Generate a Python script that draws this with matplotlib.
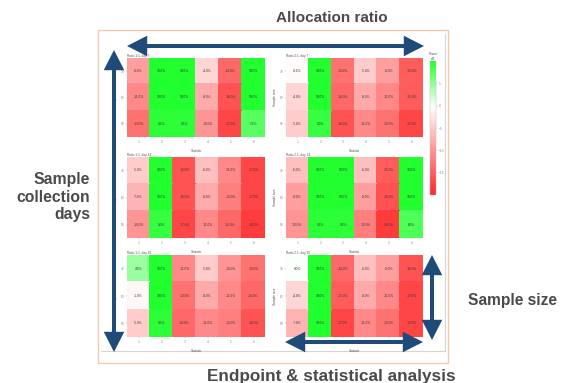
import matplotlib
matplotlib.use("Agg")
import matplotlib.pyplot as plt
import numpy as np
from matplotlib.colors import LinearSegmentedColormap, Normalize
from matplotlib.patches import FancyArrowPatch, Rectangle
from matplotlib.lines import Line2D

plt.rcParams['font.family'] = ['Liberation Sans', 'DejaVu Sans']

# ---------------- data ----------------
row_labels = ["30", "60", "90"]
col_labels = ["1", "2", "3", "4", "5", "6"]
panel_titles = ["Ratio 1:1, day 7", "Ratio 2:1, day 7",
                "Ratio 1:1, day 14", "Ratio 2:1, day 14",
                "Ratio 1:1, day 28", "Ratio 2:1, day 28"]

tl_vals = [[-9, 10, 10, -4, -14, 10],
           [-11, 10, 10, -8, -16, 10],
           [-13, 9.5, 9.5, -10, -17, 7.5]]
tr_vals = [[-0.6, 10, -13, -5, -9, -15],
           [-4, 10, -14, -8, -11, -15],
           [-5, 9, -16, -11, -13, -17]]
ml_vals = [[-5, 10, -16, -6, -11, -17],
           [-7, 10, -16, -8, -12, -17],
           [-10, 9, -17, -11, -14, -18]]
mr_vals = [[-6, 10, 10, -6, -15, 10],
           [-9, 10, 10, -9, -16, 10],
           [-10, 9.5, 9.5, -12, -18, 8]]
bl_vals = [[4.5, 10, -11, -5, -10, -13],
           [-1, 10, -13, -8, -11, -14],
           [-5, 9.5, -14, -11, -12, -16]]
br_vals = [[0, 10, -14, -6, -9, -16],
           [-4, 10, -15, -8, -11, -17],
           [-7, 10, -17, -11, -13, -17]]
panels = [tl_vals, tr_vals, ml_vals, mr_vals, bl_vals, br_vals]

cbar_ticks = [-15, -10, -5, 0, 5]

# ---------------- figure ----------------
W, H = 562, 383
fig = plt.figure(figsize=(W / 100, H / 100), dpi=100)
fig.patch.set_facecolor("white")

def px_axes(x0, y0, x1, y1, **kw):
    return fig.add_axes([x0 / W, 1 - y1 / H, (x1 - x0) / W, (y1 - y0) / H], **kw)

# background axes (frames)
bg = fig.add_axes([0, 0, 1, 1], zorder=0)
bg.set_xlim(0, W)
bg.set_ylim(H, 0)
bg.axis("off")
bg.add_patch(Rectangle((98, 30), 350, 333, fill=False, edgecolor="#f3c9ad", lw=1.0))
bg.add_line(Line2D([445, 445], [34, 351], color="#d5d5d5", lw=0.8))
bg.add_line(Line2D([101, 445], [351, 351], color="#d5d5d5", lw=0.8))

cmap = LinearSegmentedColormap.from_list(
    "rwg", [(0.0, "#ff2626"), (0.66, "#ffffff"), (1.0, "#22ff2e")])
norm = Normalize(vmin=-20, vmax=10)

col_x = [(127, 265), (286, 423)]
row_y = [(58, 137), (157, 238), (255, 337)]

tiny = 2.3
for i, vals in enumerate(panels):
    r, c = divmod(i, 2)
    x0, x1 = col_x[c]
    y0, y1 = row_y[r]
    ax = px_axes(x0, y0, x1, y1, zorder=2)
    arr = np.array(vals, dtype=float)
    ax.pcolormesh(arr, cmap=cmap, norm=norm, edgecolor="face", linewidth=0.2)
    ax.set_ylim(len(row_labels), 0)
    ax.set_xlim(0, len(col_labels))
    for rr in range(arr.shape[0]):
        for cc in range(arr.shape[1]):
            ax.text(cc + 0.5, rr + 0.5, f"{arr[rr, cc]:.1f}%", ha="center",
                    va="center", fontsize=tiny, color="#333333")
    ax.set_xticks(np.arange(len(col_labels)) + 0.5)
    ax.set_xticklabels(col_labels, fontsize=tiny, color="#555555")
    ax.set_yticks(np.arange(len(row_labels)) + 0.5)
    ax.set_yticklabels(row_labels, fontsize=tiny, color="#555555")
    ax.tick_params(length=1, width=0.3, pad=1, colors="#888888")
    for s in ax.spines.values():
        s.set_visible(False)
    ax.set_xlabel("Statistic", fontsize=tiny, color="#555555", labelpad=4)
    ax.set_ylabel("Sample size", fontsize=tiny, color="#555555", labelpad=2)
    ax.set_title(panel_titles[i], fontsize=tiny, color="#555555", loc="left", pad=1)

# colorbar
cax = px_axes(430, 61, 436, 195, zorder=2)
sm = plt.cm.ScalarMappable(cmap=cmap, norm=norm)
cb = fig.colorbar(sm, cax=cax, ticks=cbar_ticks)
cb.ax.tick_params(labelsize=tiny, length=1, width=0.3, pad=1, colors="#888888")
cb.outline.set_linewidth(0.3)
cb.outline.set_edgecolor("#bbbbbb")
cax.set_title("Power\ndiff.", fontsize=tiny, color="#555555", pad=1)

# foreground overlay: arrows and labels
fg = fig.add_axes([0, 0, 1, 1], zorder=10)
fg.set_xlim(0, W)
fg.set_ylim(H, 0)
fg.axis("off")
fg.patch.set_alpha(0)

arrow_color = "#1f4b79"
def dbl_arrow(p0, p1):
    a = FancyArrowPatch(p0, p1, arrowstyle="<|-|>,head_length=0.55,head_width=0.28",
                        mutation_scale=18, lw=2.9, color=arrow_color,
                        shrinkA=0, shrinkB=0, joinstyle="miter", capstyle="butt")
    fg.add_patch(a)

dbl_arrow((127, 46), (424, 46))
dbl_arrow((114, 50), (114, 352))
dbl_arrow((432, 255), (432, 340))
dbl_arrow((285, 342), (423, 342))

label_color = "#4a4a4a"
fg.text(332, 18, "Allocation ratio", ha="center", va="center", fontsize=11,
        fontweight="bold", color=label_color)
fg.text(90, 197, "Sample\ncollection\ndays", ha="right", va="center", fontsize=11.3,
        fontweight="bold", color=label_color, linespacing=1.2)
fg.text(512, 300, "Sample size", ha="center", va="center", fontsize=11.2,
        fontweight="bold", color=label_color)
fg.text(331, 377, "Endpoint & statistical analysis", ha="center", va="center",
        fontsize=12.3, fontweight="bold", color=label_color)

fig.savefig("out.png", dpi=100, facecolor="white")
